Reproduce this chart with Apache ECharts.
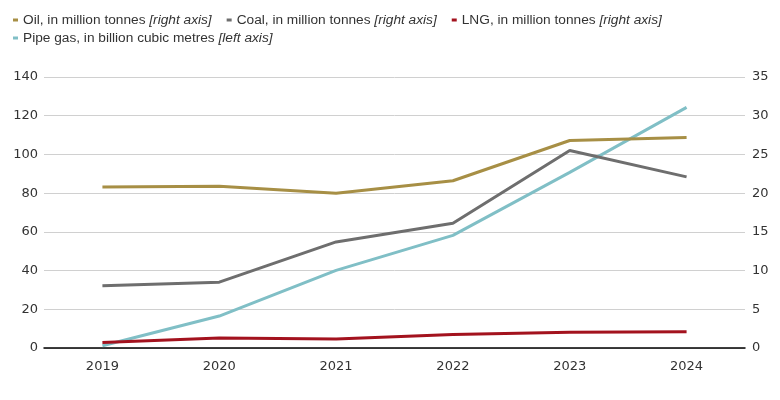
<!DOCTYPE html>
<html><head><meta charset="utf-8">
<script src="https://cdn.jsdelivr.net/npm/echarts@6/dist/echarts.min.js"></script>
<style>html,body{margin:0;padding:0;background:#fff}#c{width:780px;height:400px}</style>
</head><body><div id="c"></div>
<script>
const years = ['2019','2020','2021','2022','2023','2024'];
const oil = [20.8, 20.9, 20.0, 21.6, 26.8, 27.2];
const coal = [8.05, 8.5, 13.7, 16.1, 25.5, 22.1];
const lng = [0.7, 1.3, 1.15, 1.75, 2.05, 2.1];
const pipeGas = [1.2, 16.5, 40.1, 58.2, 90.7, 124.3];
const leftTicks = [0, 20, 40, 60, 80, 100, 120, 140];
const rightTicks = [0, 5, 10, 15, 20, 25, 30, 35];

const names = {
  oil: 'Oil, in million tonnes|[right axis]',
  coal: 'Coal, in million tonnes|[right axis]',
  lng: 'LNG, in million tonnes|[right axis]',
  gas: 'Pipe gas, in billion cubic metres|[left axis]'
};
const colors = {oil:'#a78f45', coal:'#6e6e6e', lng:'#a3121e', gas:'#80bfc6'};
const legendFont = 'Liberation Sans';
function legendCfg(data, top) {
  return {
    data: data, top: top, left: 8, itemWidth: 5, itemHeight: 3, icon: 'rect', itemGap: 15,
    formatter: function(n){ const p = n.split('|'); return '{a|' + p[0] + ' }{b|' + p[1] + '}'; },
    textStyle: {
      rich: {
        a: {fontFamily: legendFont, fontSize: 13.7, color: '#333'},
        b: {fontFamily: legendFont, fontSize: 13.7, color: '#333', fontStyle: 'italic'}
      }
    }
  };
}
const chart = echarts.init(document.getElementById('c'), null, {renderer:'canvas'});
chart.setOption({
  animation: false,
  legend: [legendCfg([names.oil, names.coal, names.lng], 8), legendCfg([names.gas], 26)],
  grid: {left: 44, right: 35, top: 77, bottom: 52, containLabel: false},
  xAxis: {
    type: 'category', data: years, boundaryGap: true,
    axisLine: {lineStyle: {color: '#000', width: 1.5}},
    axisTick: {show: false},
    axisLabel: {fontFamily: 'DejaVu Sans', fontSize: 13, color: '#333', margin: 12}
  },
  yAxis: [
    {type: 'value', min: 0, max: 140, interval: 20, position: 'left',
     axisLine: {show: false}, axisTick: {show: false},
     axisLabel: {fontFamily: 'DejaVu Sans', fontSize: 13, color: '#333', margin: 6,
       formatter: v => leftTicks.includes(v) ? String(v) : ''},
     splitLine: {lineStyle: {color: '#d0d0d0', width: 1}}},
    {type: 'value', min: 0, max: 35, interval: 5, position: 'right',
     axisLine: {show: false}, axisTick: {show: false},
     axisLabel: {fontFamily: 'DejaVu Sans', fontSize: 13, color: '#333', margin: 7,
       formatter: v => rightTicks.includes(v) ? String(v) : ''},
     splitLine: {show: false}}
  ],
  series: [
    {name: names.oil, type: 'line', yAxisIndex: 1, data: oil, symbol: 'none', color: colors.oil, lineStyle: {width: 3}},
    {name: names.coal, type: 'line', yAxisIndex: 1, data: coal, symbol: 'none', color: colors.coal, lineStyle: {width: 3}},
    {name: names.lng, type: 'line', yAxisIndex: 1, data: lng, symbol: 'none', color: colors.lng, lineStyle: {width: 3}, z: 3},
    {name: names.gas, type: 'line', yAxisIndex: 0, data: pipeGas, symbol: 'none', color: colors.gas, lineStyle: {width: 3}, z: 1}
  ]
});
</script></body></html>
